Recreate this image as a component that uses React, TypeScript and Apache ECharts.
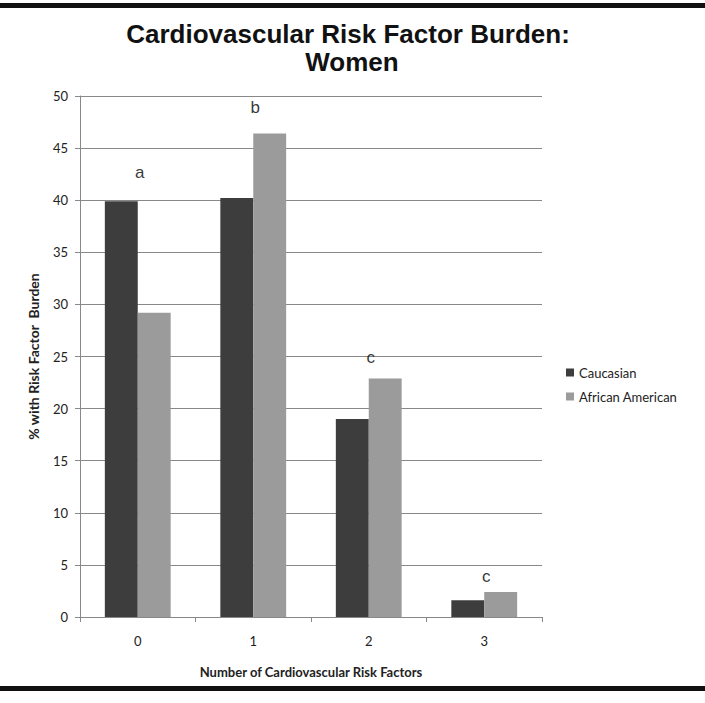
import React, { useEffect, useRef } from "react";
import * as echarts from "echarts";

const categories = ["0", "1", "2", "3"];
const caucasian = [39.9, 40.2, 19.0, 1.6];
const africanAmerican = [29.2, 46.4, 22.9, 2.4];
const letterLabels = ["a", "b", "c", "c"];
const letterPositions = [42.7, 48.9, 24.9, 3.9];
const titleLines = ["Cardiovascular Risk Factor Burden:", "Women"];
const yTicks = { min: 0, max: 50, interval: 5 };

export default function App() {
  const ref = useRef<HTMLDivElement>(null);
  useEffect(() => {
    if (!ref.current) return;
    const chart = echarts.init(ref.current, null, { renderer: "svg" });
    const font = "Lato, 'Open Sans', sans-serif";
    const titleStyle = {
      fontFamily: "'Liberation Sans', Arial, sans-serif",
      fontWeight: "bold",
      fontSize: 26,
      lineHeight: 26,
      color: "#111",
    };
    chart.setOption({
      animation: false,
      backgroundColor: "#ffffff",
      title: [
        { text: titleLines[0], left: 348, textAlign: "center", top: 21, padding: 0, textStyle: titleStyle },
        { text: titleLines[1], left: 352, textAlign: "center", top: 49, padding: 0, textStyle: titleStyle },
      ],
      legend: {
        orient: "vertical",
        left: 561,
        top: 361,
        itemWidth: 8,
        itemHeight: 8,
        itemGap: 11,
        icon: "rect",
        data: ["Caucasian", "African American"],
        textStyle: { fontFamily: font, fontSize: 13, color: "#222" },
      },
      grid: { left: 80, right: 163, top: 96, bottom: 86 },
      xAxis: {
        type: "category",
        data: categories,
        name: "Number of Cardiovascular Risk Factors",
        nameLocation: "middle",
        nameGap: 48,
        nameTextStyle: { fontFamily: font, fontWeight: "bold", fontSize: 13, color: "#222" },
        axisLine: { lineStyle: { color: "#888" } },
        axisTick: { show: true, length: 5, lineStyle: { color: "#888" } },
        axisLabel: { fontFamily: font, fontSize: 13, color: "#222", margin: 17 },
      },
      yAxis: {
        type: "value",
        min: yTicks.min,
        max: yTicks.max,
        interval: yTicks.interval,
        name: "% with Risk Factor  Burden",
        nameLocation: "middle",
        nameGap: 40,
        nameTextStyle: { fontFamily: font, fontWeight: "bold", fontSize: 14, color: "#222" },
        axisLine: { show: true, lineStyle: { color: "#888" } },
        axisTick: { show: true, length: 5, lineStyle: { color: "#888" } },
        axisLabel: { fontFamily: font, fontSize: 13, color: "#222", margin: 12 },
        splitLine: { lineStyle: { color: "#888", width: 1 } },
      },
      series: [
        {
          name: "Caucasian",
          type: "bar",
          data: caucasian,
          barGap: "0%",
          barCategoryGap: "43%",
          itemStyle: { color: "#3d3d3d" },
        },
        {
          name: "African American",
          type: "bar",
          data: africanAmerican,
          itemStyle: { color: "#9b9b9b" },
        },
        {
          name: "letters",
          type: "scatter",
          data: letterPositions,
          symbolSize: 1,
          itemStyle: { color: "transparent" },
          silent: true,
          label: {
            show: true,
            position: "inside",
            offset: [2, 0],
            formatter: (p: any) => letterLabels[p.dataIndex],
            fontFamily: "'Liberation Sans', Arial, sans-serif",
            fontSize: 17,
            color: "#000",
          },
        },
      ],
      graphic: [
        { type: "rect", shape: { x: 0, y: 3, width: 705, height: 5 }, style: { fill: "#111" } },
        { type: "rect", shape: { x: 0, y: 686, width: 705, height: 5 }, style: { fill: "#111" } },
      ],
    });
    return () => chart.dispose();
  }, []);
  return (
    <div
      ref={ref}
      style={{ position: "fixed", left: 0, top: 0, width: 705, height: 703 }}
    />
  );
}
